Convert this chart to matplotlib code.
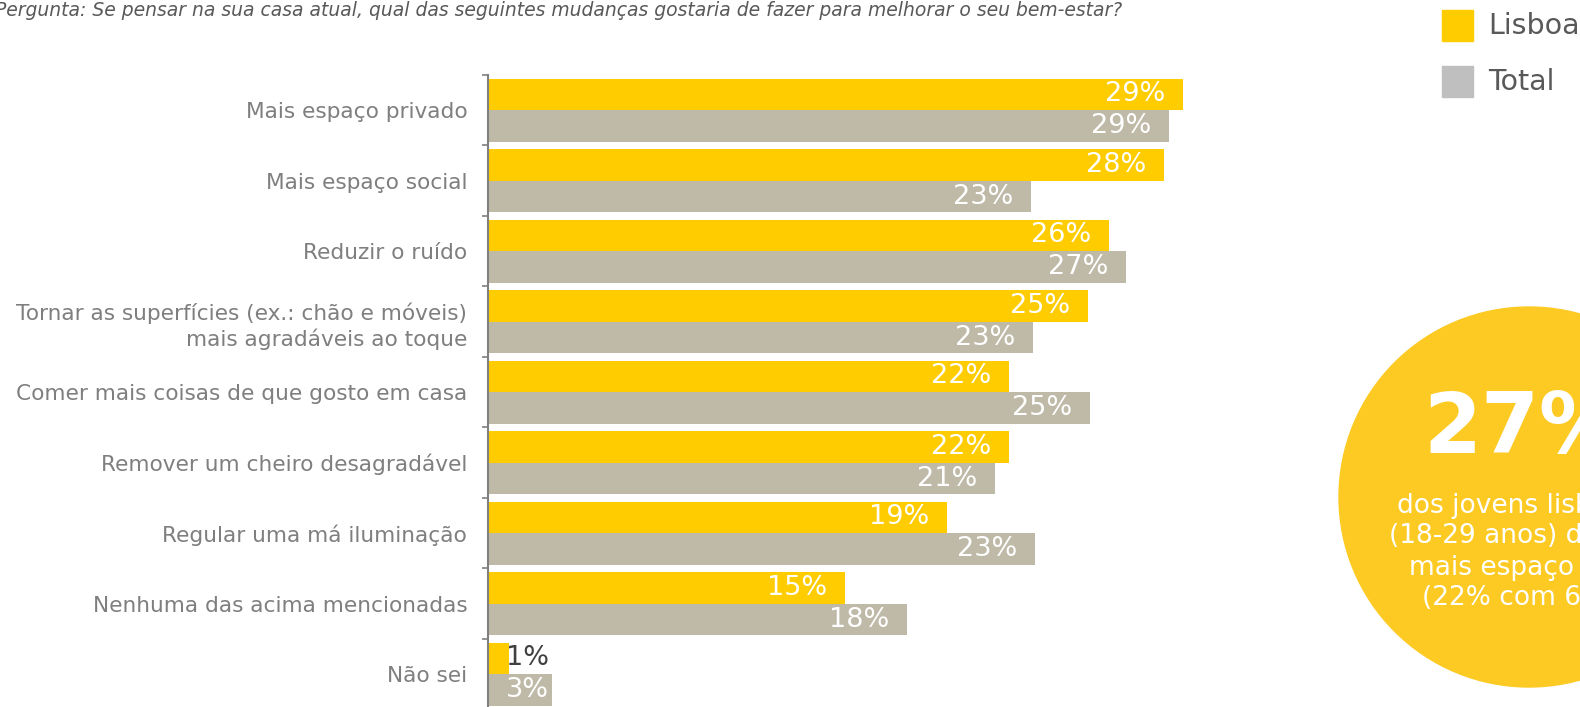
import matplotlib.pyplot as plt
import numpy as np
from matplotlib.patches import Ellipse, Rectangle

# Dados
categorias = [
    "Mais espaço privado",
    "Mais espaço social",
    "Reduzir o ruído",
    "Tornar as superfícies (ex.: chão e móveis)\nmais agradáveis ao toque",
    "Comer mais coisas de que gosto em casa",
    "Remover um cheiro desagradável",
    "Regular uma má iluminação",
    "Nenhuma das acima mencionadas",
    "Não sei",
]
lisboa = [29.2, 28.4, 26.1, 25.2, 21.9, 21.9, 19.3, 15.0, 0.9]
total = [28.6, 22.8, 26.8, 22.9, 25.3, 21.3, 23.0, 17.6, 2.7]
series_nomes = ["Lisboa", "Total"]

W, H = 1580, 707
AMARELO = "#FFCC00"
CINZA_BARRA = "#BFB9A7"
CINZA_LEG = "#BFBFBF"
CIRCULO = "#FDCA24"
TEXTO = "#7F7F7F"
TEXTO_ESC = "#595959"

fig = plt.figure(figsize=(W / 100, H / 100), dpi=100, facecolor="white")
ax = fig.add_axes([488 / W, 0, 1 - 488 / W, 1 - 75 / H])

y = np.arange(len(categorias))
alt = 0.45
ax.barh(y - alt / 2, lisboa, height=alt, color=AMARELO, zorder=2)
ax.barh(y + alt / 2, total, height=alt, color=CINZA_BARRA, zorder=2)

# Valores nas barras
for yi, v in zip(y - alt / 2, lisboa):
    if v < 4:
        ax.text(0.75, yi, f"{v:.0f}%", ha="left", va="center", fontsize=19.5, color="#404040", zorder=3)
    else:
        ax.text(v - 0.75, yi, f"{v:.0f}%", ha="right", va="center", fontsize=19.5, color="white", zorder=3)
for yi, v in zip(y + alt / 2, total):
    if v < 4:
        ax.text(0.75, yi, f"{v:.0f}%", ha="left", va="center", fontsize=19.5, color="white", zorder=3)
    else:
        ax.text(v - 0.75, yi, f"{v:.0f}%", ha="right", va="center", fontsize=19.5, color="white", zorder=3)

# Eixos
ax.set_xlim(0, 1092 / 23.8)
ax.set_ylim(632 / 70.5 - 0.5, -0.5)
ax.set_yticks(y)
ax.set_yticklabels(categorias, fontsize=15.6, color=TEXTO, linespacing=1.25)
ax.set_yticks(np.arange(-0.5, len(categorias) - 0.5, 1), minor=True)
ax.tick_params(axis="y", which="major", length=0, pad=15)
ax.tick_params(axis="y", which="minor", length=4.5, width=1.2, color="#808080", direction="out")
ax.xaxis.set_visible(False)
for s in ["top", "right", "bottom"]:
    ax.spines[s].set_visible(False)
ax.spines["left"].set_color("#808080")
ax.spines["left"].set_linewidth(1.5)

# Pergunta
fig.text(1122 / W, 1 - 11 / H,
         "Pergunta: Se pensar na sua casa atual, qual das seguintes mudanças gostaria de fazer para melhorar o seu bem-estar?",
         ha="right", va="center", fontsize=13.5, style="italic", color=TEXTO_ESC)

# Legenda manual
for i, (nome, cor) in enumerate(zip(series_nomes, [AMARELO, CINZA_LEG])):
    y0 = 10 + i * 56
    fig.add_artist(Rectangle((1442 / W, 1 - (y0 + 31) / H), 31 / W, 31 / H,
                             transform=fig.transFigure, color=cor))
    fig.text(1488 / W, 1 - (y0 + 15.5) / H, nome, ha="left", va="center",
             fontsize=20.5, color=TEXTO_ESC)

# Circulo de destaque
fig.add_artist(Ellipse((1529 / W, 1 - 497 / H), 380 / W, 380 / H,
                       transform=fig.transFigure, color=CIRCULO))
fig.text(1423 / W, 1 - 453 / H, "27%", ha="left", va="baseline",
         fontsize=60, fontweight="bold", color="white")
linhas = ["dos jovens lisboetas", "(18-29 anos) desejam", "mais espaço privado", "(22% com 65+ anos)"]
xs = [1397, 1389, 1409, 1422]
bases = [513, 543, 575, 605]
for txt, xl, yb in zip(linhas, xs, bases):
    fig.text(xl / W, 1 - yb / H, txt, ha="left", va="baseline", fontsize=19, color="white")

fig.savefig("out.png", dpi=100, facecolor="white")
